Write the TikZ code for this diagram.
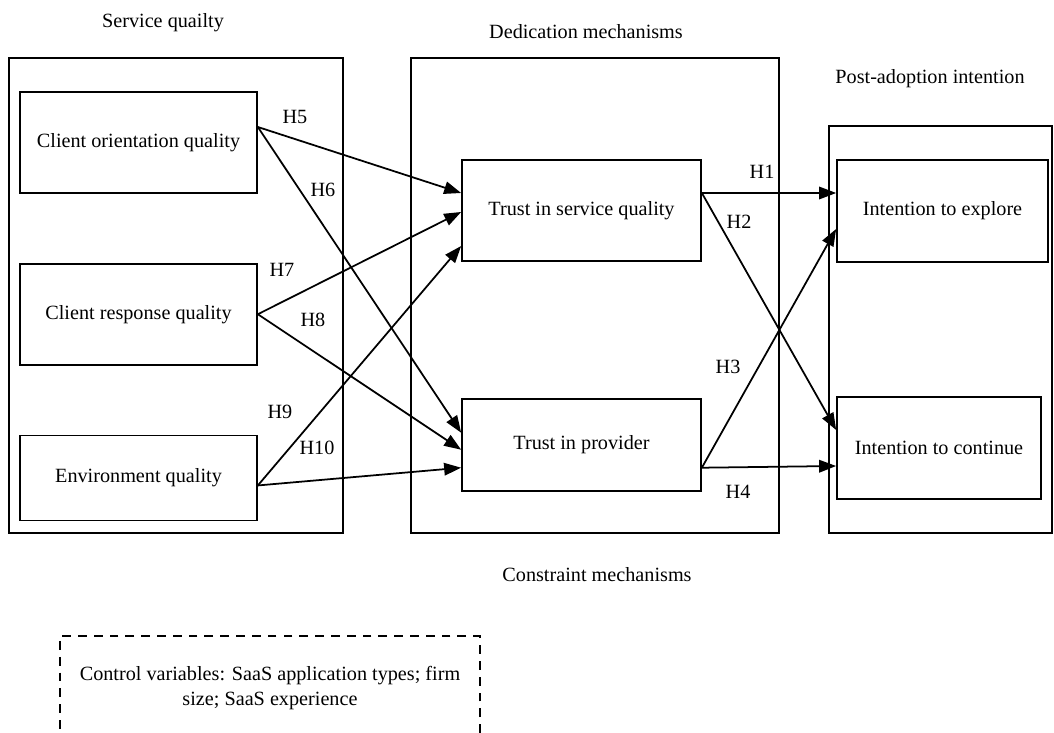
\documentclass[tikz,border=0pt]{standalone}
\usepackage{fontspec}
\setmainfont{Liberation Serif}
\usetikzlibrary{arrows.meta,positioning,calc}

\begin{document}
\begin{tikzpicture}[x=0.02cm,y=-0.02cm,>={Triangle[length=0.34cm,width=0.25cm]},
    line width=1pt,node distance=1.38cm,font=\fontsize{11.5}{14.2}\selectfont,
    box/.style={draw,rectangle,inner sep=0pt},
    group/.style={draw,rectangle,inner sep=0pt}]

                \useasboundingbox (0,0) rectangle (1054,733);

                % outer frames
                \node[group,minimum width=6.68cm,minimum height=9.5cm] (sqgrp) at (176,295.5) {};
                \node[group,minimum width=7.36cm,minimum height=9.5cm] (dmgrp) at (595,295.5) {};
                \node[group,minimum width=4.46cm,minimum height=8.14cm] (pagrp) at (940.5,329.5) {};

                \node (sqtitle) at (163,23) {Service quailty};
                \node (dmtitle) at (586,32) {Dedication mechanisms};
                \node (patitle) at (930,79) {Post-adoption intention};
                \node (cmtitle) at (597,575) {Constraint mechanisms};

                % constructs
                \node[box,minimum width=4.74cm,minimum height=2.02cm] (co) at (138.5,142.5) {Client orientation quality};
                \node[box,minimum width=4.74cm,minimum height=2.02cm] (cr) [below=of co] {Client response quality};
                \node[box,minimum width=4.74cm,minimum height=1.7cm] (env) [below=of cr] {Environment quality};

                \node[box,minimum width=4.78cm,minimum height=2.02cm] (tsq) at (581.5,210.5) {Trust in service quality};
                \node[box,minimum width=4.78cm,minimum height=1.84cm] (tp) [below=2.72cm of tsq] {Trust in provider};

                \node[box,minimum width=4.22cm,minimum height=2.04cm] (ie) at (942.5,211) {Intention to explore};
                \node[box,minimum width=4.08cm,minimum height=2.04cm] (ic) at (939,448) {Intention to continue};

                \node[draw,dash pattern=on 5pt off 4pt,minimum width=8.4cm,minimum height=2.08cm,align=center] (ctrl) at (270,688)
                      {Control variables: SaaS application types; firm\\ size; SaaS experience};

                % hypotheses
                \path[->] ($(co.east)+(0,-15.5)$) edge ($(tsq.west)+(0,-17.5)$)
                                                  edge ($(tp.west)+(0,-12)$)
                          (cr.east) edge ($(tsq.west)+(0,1.5)$)
                                    edge ($(tp.west)+(0,5)$)
                          ($(env.east)+(0,7.5)$) edge ($(tsq.west)+(0,35.5)$)
                                                 edge ($(tp.west)+(0,23)$)
                          ($(tsq.east)+(0,-17.5)$) edge ($(ie.west)+(0,-18)$)
                                                   edge ($(ic.west)+(0,-18)$)
                          ($(tp.east)+(0,23)$) edge ($(ie.west)+(0,18)$)
                                               edge ($(ic.west)+(0,18)$);

                \node (h5) at (295,117) {H5};
                \node (h6) at (323,190) {H6};
                \node (h7) at (282,270) {H7};
                \node (h8) at (313,320) {H8};
                \node (h9) at (280,412) {H9};
                \node (h10) at (317,448) {H10};
                \node (h1) at (762,172) {H1};
                \node (h2) at (739,222) {H2};
                \node (h3) at (728,367) {H3};
                \node (h4) at (738,492) {H4};

            \end{tikzpicture}
\end{document}
